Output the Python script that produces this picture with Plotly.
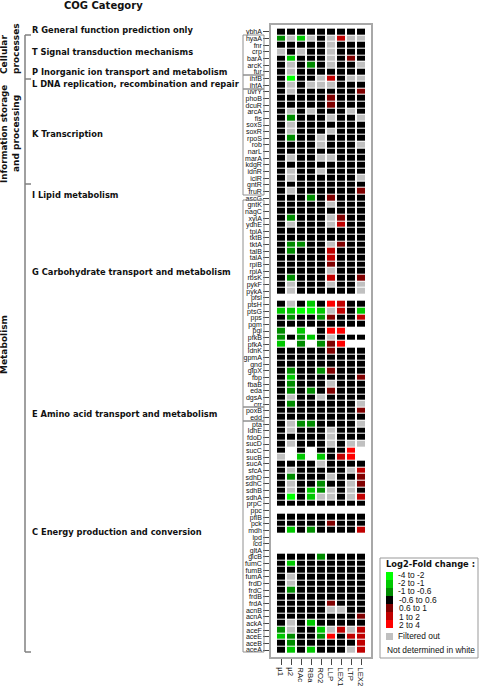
import plotly.graph_objects as go

W, H = 481, 686

conditions = ["µ1", "µ2", "RAc", "RBa", "RO2", "LLP", "LEX1", "LTP", "LEX2"]
genes = ["ybhA","hyaA","fnr","crp","barA","arcK","fur","ihfB","ihfA","uvrY","phoB","dcuR","arcA","fis",
         "soxS","soxR","rpoS","rob","narL","marA","kdgR","idnR","iclR","gntR","fruR","ascG","gntK","nagC",
         "xylA","ydhE","tpiA","tktB","tktA","talB","talA","rpiB","rpiA","rbsK","pykF","pykA","pfsl","ptsH",
         "ptsG","pps","pgm","pgi","pfkB","pfkA","idnK","gpmA","gnd","glpX","fbp","fbaB","eda","dgsA","crr",
         "poxB","edd","pta","ldhE","fdoD","sucD","sucC","sucB","sucA","sfcA","sdhD","sdhC","sdhB","sdhA",
         "prpC","ppc","pflB","pck","mdh","lpd","icd","gltA","glcB","fumC","fumB","fumA","frdD","frdC","frdB",
         "frdA","acnB","acnA","ackA","aceF","aceE","aceB","aceA"]

# one string per gene, one letter per condition
# a,b,c greens (weak->strong) . black x,y,z reds (weak->strong) F filtered W white
calls = [
 ".........","aFbF.FyFF",".....F...","F.F..F...",".b...F.x.",".F.a.F..F",".F.......",".c..Fy.FF",
 ".F.FFF...",".F......x",".....x...",".....x...",".F.F...F.",".a...F..F",".F.......",".F...F...",
 ".a..F....","....F...F",".........",".F..FF...",".........",".F..F....",".F......F",".........",
 ".F......x","...a.x...",".....F...",".........",".a...Fx..",".F...Fy..",".........",".........",
 ".aa..Fx..",".a...y...",".....y...",".....x...",".....F...",".a...y..x",".F...F..F",".F......F",
 "WWWWWWWWW",".F.b.zy..","bbccbFy.b",".a..ax..y",".........","aWbW.zzWW","a.ab.F...","bWaWaxzWW",
 ".....x...",".........",".........",".a..ax...",".b......x",".a...F...",".a.a.x...",".F..F....",
 ".a......F","........x",".........",".Faa....F",".F...F...",".....F...",".F...F.FF",".W.W...zW",
 "FWbWb.yzW","....F....",".F.....Fy",".a...F..x",".F..a..Fx",".F.baF.F.",".c.bFF.Fy",".........",
 "WWWWWWWWW",".........",".....x...",".b.a....y","WWWWWWWWW","WWWWWWWWW","WWWWWWWWW","....a....",
 ".b.......",".........",".F.......",".F.......",".a.......",".........",".....x...",".....FF..",
 "........x",".F.b.....","aF..bFyFy","ba..az.yy",".a......y",".b.b...Fy",
]

levels = {"c": 0, "b": 1, "a": 2, ".": 3, "x": 4, "y": 5, "z": 6, "F": 7}
level_colors = ["#00ff00", "#00c800", "#008c00", "#000000", "#800000", "#c00000", "#ff0000", "#c0c0c0"]
legend_labels = ["-4 to -2", "-2 to -1", "-1 to -0.6", "-0.6 to 0.6", "0.6 to 1", "1 to 2", "2 to 4"]

z = [[levels.get(ch) for ch in row] for row in calls]
scale = []
for i, col in enumerate(level_colors):
    scale += [[i / 8, col], [(i + 1) / 8, col]]

fig = go.Figure(go.Heatmap(
    z=z, x=list(range(len(conditions))), y=list(range(len(genes))),
    zmin=0, zmax=8, colorscale=scale, showscale=False, xgap=2, ygap=1, hoverongaps=False))

GRAY = "#a8a8a8"
def px(x): return x / W
def py(y): return 1 - y / H

fig.update_layout(
    width=W, height=H, autosize=False, margin=dict(l=0, r=0, t=0, b=0),
    paper_bgcolor="white", plot_bgcolor="white", showlegend=False,
    font=dict(family="Liberation Sans", color="#111111"),
    xaxis=dict(domain=[px(271), px(371)], range=[-1, 9], tickmode="array",
               tickvals=list(range(len(conditions))), ticktext=conditions, tickangle=90,
               ticks="outside", ticklen=6, tickcolor="#444444", tickwidth=1,
               tickfont=dict(size=7.8, color="#111111"), ticklabelstandoff=1,
               showline=True, mirror=True, linecolor=GRAY, linewidth=1.5, showgrid=False, zeroline=False),
    yaxis=dict(domain=[py(657), py(25)], range=[94.05, -1.05], tickmode="array",
               tickvals=list(range(len(genes))), ticktext=genes,
               ticks="outside", ticklen=6, tickcolor="#444444", tickwidth=1,
               tickfont=dict(size=7, family="Liberation Sans Narrow, Liberation Sans", color="#111111"),
               showline=True, mirror=True, linecolor=GRAY, linewidth=1.5, showgrid=False, zeroline=False),
)

def line(x0, y0, x1, y1, color="#808080", width=1.5):
    fig.add_shape(type="line", xref="paper", yref="paper", x0=px(x0), x1=px(x1), y0=py(y0), y1=py(y1),
                  line=dict(color=color, width=width))

def rect(x0, y0, x1, y1, fill=None, color="#909090", width=1):
    fig.add_shape(type="rect", xref="paper", yref="paper", x0=px(x0), x1=px(x1), y0=py(y0), y1=py(y1),
                  fillcolor=fill if fill else "rgba(0,0,0,0)",
                  line=dict(color=color, width=width))

def text(x, y, s, size=8, bold=False, angle=0, xanchor="left", family="DejaVu Sans", color="#111111"):
    fig.add_annotation(xref="paper", yref="paper", x=px(x), y=py(y), text=f"<b>{s}</b>" if bold else s,
                       showarrow=False, xanchor=xanchor, yanchor="middle", textangle=angle,
                       font=dict(size=size, family=family, color=color), borderpad=0, borderwidth=0)

# gene group boxes
for y0, y1 in [(35, 75), (75, 89), (89, 195), (200, 407), (407, 421), (421, 652)]:
    rect(243, y0, 264, y1)

# COG brackets
line(25, 35, 25, 652)
for yy in (35, 79, 184, 652):
    line(25, yy, 31, yy)

text(103, 5, "COG Category", size=10, bold=True, xanchor="center")
cats = [("R General function prediction only", 30), ("T Signal transduction mechanisms", 52),
        ("P Inorganic ion transport and metabolism", 72), ("L DNA replication, recombination and repair", 84),
        ("K Transcription", 134), ("I Lipid metabolism", 195), ("G Carbohydrate transport and metabolism", 272),
        ("E Amino acid transport and metabolism", 414), ("C Energy production and conversion", 532)]
for s, y in cats:
    text(32, y, s, size=8.3, bold=True)
text(4, 55, "Cellular", size=9, bold=True, angle=-90, xanchor="center")
text(16, 49, "processes", size=9, bold=True, angle=-90, xanchor="center")
text(4, 134, "Information storage", size=8.7, bold=True, angle=-90, xanchor="center")
text(16, 134, "and processing", size=9, bold=True, angle=-90, xanchor="center")
text(4, 345, "Metabolism", size=9, bold=True, angle=-90, xanchor="center")

# legend
rect(380, 558, 478, 658, color="#999999")
text(386, 564, "Log2-Fold change :", size=8.3, bold=True)
swatch_y = [576, 584, 592, 600, 608, 616, 624]
label_y = [575, 583, 591, 600, 608, 617, 625]
for i, lab in enumerate(legend_labels):
    yy = swatch_y[i]
    rect(386, yy - 4, 393, yy + 4, fill=level_colors[i], color=level_colors[i], width=0)
    text(398 if i < 3 else 399, label_y[i], lab, size=8.4, family="Liberation Sans")
rect(386, 633, 393, 640, fill=level_colors[7], color=level_colors[7], width=0)
text(398, 636, "Filtered out", size=8.4, family="Liberation Sans")
text(387, 650, "Not determined in white", size=8.4, family="Liberation Sans")

fig.write_html("out.html", config=dict(displayModeBar=False),
               post_script="document.body.style.margin='0';document.body.style.overflow='hidden';")
